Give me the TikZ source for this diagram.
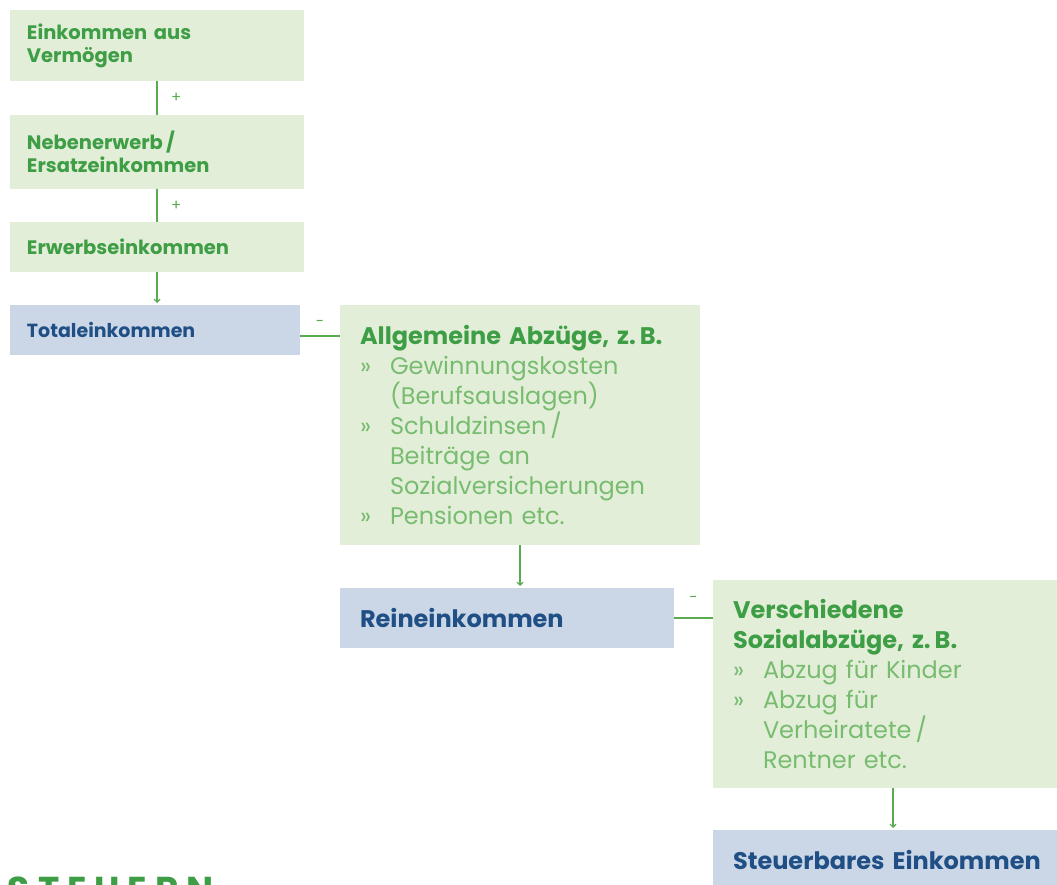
\documentclass[tikz,border=0pt]{standalone}
\usepackage{fontspec}
\setmainfont{Poppins}
\usetikzlibrary{arrows.meta, positioning, calc}
\definecolor{PaleGreen}{HTML}{E3EED9}
\definecolor{HeadGreen}{HTML}{3E9E45}
\definecolor{ItemGreen}{HTML}{78BC70}
\definecolor{LineGreen}{HTML}{5AAA50}
\definecolor{PaleBlue}{HTML}{CBD7E7}
\definecolor{NavyText}{HTML}{1F4F84}
\newcommand{\itm}[1]{\makebox[30pt][l]{»}#1}
\newcommand{\cnt}[1]{\hspace*{30pt}#1}

\begin{document}
\begin{tikzpicture}[x=1pt, y=-1pt,
    every node/.style={inner sep=0pt, outer sep=0pt},
    smallbox/.style={fill=PaleGreen, anchor=north west, align=left, text width=#1,
      inner xsep=17pt, minimum height=50pt, text=HeadGreen,
      font=\fontsize{19.5}{23}\selectfont\bfseries},
    sumbox/.style={fill=PaleBlue, anchor=north west, align=left, text width=#1,
      text=NavyText, font=\bfseries},
    bigbox/.style={fill=PaleGreen, anchor=north west, align=left, text width=#1,
      inner xsep=20pt, text=ItemGreen, font=\fontsize{24}{30}\selectfont},
    link/.style={draw=LineGreen, line width=1.2pt},
    flow/.style={link, -{Straight Barb[length=3pt, width=6pt]}, shorten >=2pt},
    sign/.style={text=LineGreen, font=\fontsize{15}{15}\selectfont}]
  \useasboundingbox (0,0) rectangle (1057,885);

  % income sources
  \node[smallbox=260pt, minimum height=71pt] (verm) at (10,10)
    {Einkommen aus\\Vermögen};
  \node[smallbox=260pt, minimum height=74pt] (neben) at (10,115)
    {Nebenerwerb\,/\\Ersatzeinkommen};
  \node[smallbox=260pt] (erwerb) at (10,222) {Erwerbseinkommen};
  \node[sumbox=256pt, inner xsep=17pt, minimum height=50pt,
        font=\fontsize{19}{23}\selectfont\bfseries] (total) at (10,305) {Totaleinkommen};

  % deductions
  \node[bigbox=320pt, minimum height=240pt] (allg) at (340,305)
    {{\color{HeadGreen}\bfseries Allgemeine Abzüge, z.\,B.}\\
     \itm{Gewinnungskosten}\\\cnt{(Berufsauslagen)}\\
     \itm{Schuldzinsen\,/}\\\cnt{Beiträge an}\\\cnt{Sozialversicherungen}\\
     \itm{Pensionen etc.}};
  \node[sumbox=294pt, inner xsep=20pt, minimum height=60pt,
        font=\fontsize{24}{30}\selectfont\bfseries] (rein) at (340,588) {Reineinkommen};
  \node[bigbox=320pt, minimum height=208pt] (sozial) at (713,580)
    {{\color{HeadGreen}\bfseries Verschiedene\\Sozialabzüge, z.\,B.}\\
     \itm{Abzug für Kinder}\\\itm{Abzug für}\\\cnt{Verheiratete\,/}\\\cnt{Rentner etc.}};
  \node[sumbox=320pt, inner xsep=20pt, minimum height=60pt,
        font=\fontsize{24}{30}\selectfont\bfseries] (steuerbar) at (713,830)
    {Steuerbares Einkommen};

  \node[anchor=base west, text=HeadGreen,
        font=\fontsize{36}{36}\selectfont\bfseries\addfontfeatures{LetterSpace=22}]
    (titel) at (8,902) {STEUERN};

  % connectors
  \draw[link] (verm) -- node[sign, midway, right=14pt] {+} (neben);
  \draw[link] (neben) -- node[sign, midway, right=14pt] {+} (erwerb);
  \draw[flow] (erwerb.south) -- (erwerb.south |- total.north);
  \draw[link] ([yshift=-6pt]total.east) -- node[sign, midway, above=10pt] {-}
    ([yshift=-6pt]total.east -| allg.west);
  \draw[flow] (allg.south) -- (allg.south |- rein.north);
  \draw[link] (rein.east) -- node[sign, midway, above=16pt] {-} (rein.east -| sozial.west);
  \draw[flow] (sozial.south) -- (sozial.south |- steuerbar.north);
\end{tikzpicture}
\end{document}
